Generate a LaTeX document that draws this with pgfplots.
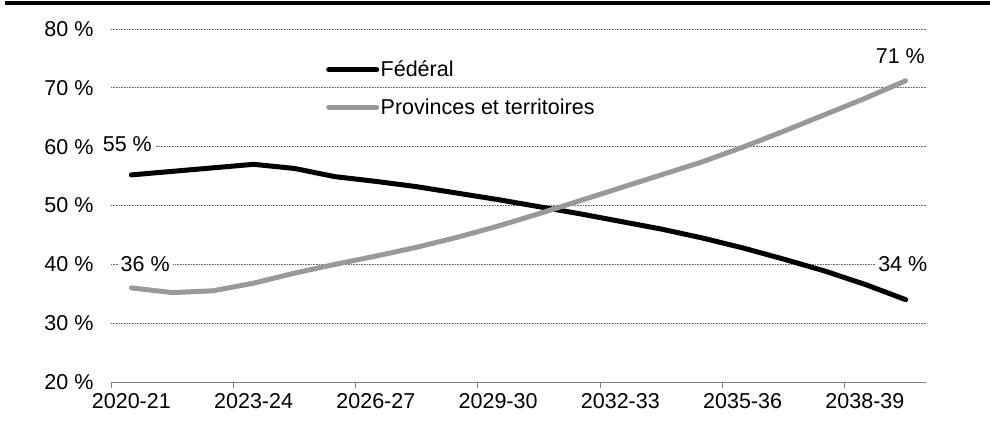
\documentclass[border=0pt]{standalone}
\usepackage{pgfplots}
\pgfplotsset{compat=1.18}
\usepackage{fontspec}
\setmainfont{Liberation Sans}

\definecolor{fedline}{gray}{0.0}
\definecolor{ptline}{gray}{0.6}
\definecolor{axisgray}{gray}{0.5}

% Share of total: federal vs. provinces and territories, 2020-21 to 2039-40
\pgfplotstableread{
idx federal provinces
0  55.2 36.0
1  55.8 35.2
2  56.4 35.5
3  57.0 36.8
4  56.3 38.5
5  54.9 40.0
6  54.1 41.4
7  53.2 42.9
8  52.1 44.6
9  51.0 46.5
10 49.8 48.6
11 48.6 50.8
12 47.3 53.0
13 46.0 55.2
14 44.5 57.4
15 42.8 59.9
16 40.9 62.6
17 38.9 65.4
18 36.6 68.2
19 34.0 71.2
}\shares

\begin{document}
\begin{tikzpicture}[font=\fontsize{21.5}{25}\selectfont]
\path[use as bounding box] (0pt,0pt) rectangle (990pt,-422pt);
% heavy rule along the top edge
\fill[black] (5pt,-1pt) rectangle (990pt,-4.7pt);
\begin{axis}[
  at={(111pt,-382pt)}, anchor=south west,
  scale only axis, width=815pt, height=353pt,
  xmin=-0.5, xmax=19.5, ymin=20, ymax=80,
  axis x line*=bottom, axis y line*=left,
  axis line style={-, draw=axisgray, line width=0.9pt},
  y axis line style={draw=none},
  major tick length=0pt,
  tick align=outside,
  xtick={0,3,...,18},
  xticklabels={2020-21,2023-24,2026-27,2029-30,2032-33,2035-36,2038-39},
  extra x ticks={-0.5,2.5,...,17.5},
  extra x tick labels={},
  extra x tick style={major tick length=6pt, grid=none,
    tick style={draw=axisgray, line width=0.9pt}},
  ytick={20,30,...,80},
  yticklabels={20 \%,30 \%,40 \%,50 \%,60 \%,70 \%,80 \%},
  ymajorgrids=true,
  grid style={draw=black!60, line width=0.8pt, dash pattern=on 0.8pt off 0.8pt},
  tick label style={font=\fontsize{21.5}{25}\selectfont},
  xticklabel style={yshift=-8pt},
  yticklabel style={xshift=-14pt},
  clip=false,
  legend style={at={(0.2638,0.918)}, anchor=north west,
    draw=none, fill=none, inner sep=0pt, row sep=14pt, column sep=0pt,
    font=\fontsize{21.5}{25}\selectfont,
    nodes={inner xsep=1.5pt, inner ysep=3pt}},
  legend cell align=left,
  legend image code/.code={\draw[#1] (0pt,0pt) -- (48pt,0pt);},
]
\addplot[fedline, line width=5pt, line cap=round, line join=round]
  table[x=idx, y=federal] {\shares};
\addlegendentry{Fédéral}
\addplot[ptline, line width=5pt, line cap=round, line join=round]
  table[x=idx, y=provinces] {\shares};
\addlegendentry{Provinces et territoires}

\node[anchor=base, fill=white, inner sep=3pt] at (axis cs:-0.1,59.15) {55 \%};
\node[anchor=base, fill=white, inner sep=3pt] at (axis cs:0.34,38.75) {36 \%};
\node[anchor=base, fill=white, inner sep=3pt] at (axis cs:18.87,74.17) {71 \%};
\node[anchor=base, fill=white, inner sep=3pt] at (axis cs:18.93,38.75) {34 \%};
\end{axis}
\end{tikzpicture}
\end{document}
